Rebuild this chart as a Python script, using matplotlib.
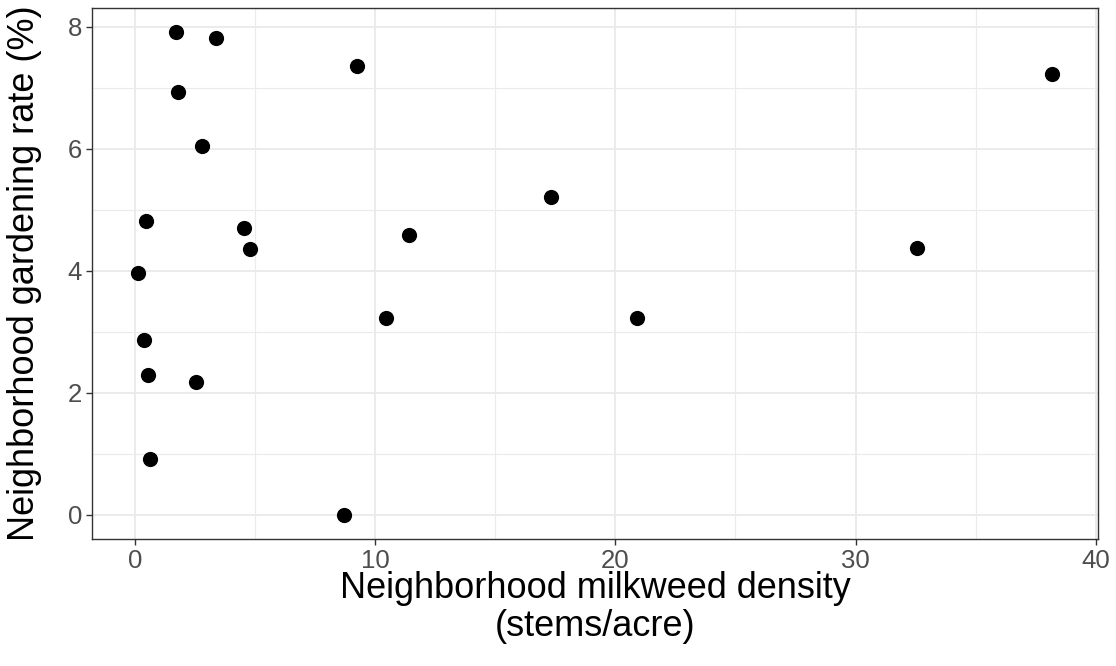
import matplotlib
matplotlib.use('Agg')
import matplotlib.pyplot as plt
from matplotlib.ticker import MultipleLocator

# milkweed density (stems/acre) vs gardening rate (%) per neighborhood
milkweed = [1.71, 3.36, 9.23, 38.19, 1.77, 2.77, 17.3, 0.44, 4.54, 4.80,
            11.42, 32.57, 0.10, 10.44, 20.9, 0.35, 0.53, 2.53, 0.60, 8.71]
gardening = [7.91, 7.81, 7.36, 7.23, 6.94, 6.05, 5.21, 4.82, 4.70, 4.35,
             4.58, 4.37, 3.97, 3.22, 3.23, 2.86, 2.29, 2.17, 0.91, 0.0]

x_ticks = [0, 10, 20, 30, 40]
y_ticks = [0, 2, 4, 6, 8]

plt.rcParams['font.family'] = ['Liberation Sans', 'DejaVu Sans']

fig = plt.figure(figsize=(11.16, 6.66), dpi=100)
ax = fig.add_axes([0.0824, 0.191, 0.9015, 0.797])

ax.scatter(milkweed, gardening, s=120, color='black', zorder=3, linewidths=0)

ax.set_xlim(-1.80, 40.1)
ax.set_ylim(-0.396, 8.31)
ax.set_xticks(x_ticks)
ax.set_yticks(y_ticks)
ax.xaxis.set_minor_locator(MultipleLocator(5))
ax.yaxis.set_minor_locator(MultipleLocator(1))

ax.grid(which='major', color='#ebebeb', linewidth=1.4, zorder=0)
ax.grid(which='minor', color='#ebebeb', linewidth=0.8, zorder=0)
ax.set_axisbelow(True)

for s in ax.spines.values():
    s.set_color('#333333')
    s.set_linewidth(1.0)

ax.tick_params(which='major', length=4, width=1.0, color='#333333',
               labelsize=18.5, labelcolor='#4d4d4d', pad=3)
ax.tick_params(which='minor', length=0)

ax.set_xlabel('Neighborhood milkweed density\n(stems/acre)', fontsize=26,
              color='black', linespacing=1.12, va='center')
ax.xaxis.set_label_coords(0.5, -0.13)
ax.set_ylabel('Neighborhood gardening rate (%)', fontsize=26,
              color='black', va='center')
ax.yaxis.set_label_coords(-0.0666, 0.5)

fig.savefig('out.png', dpi=100, facecolor='white')
